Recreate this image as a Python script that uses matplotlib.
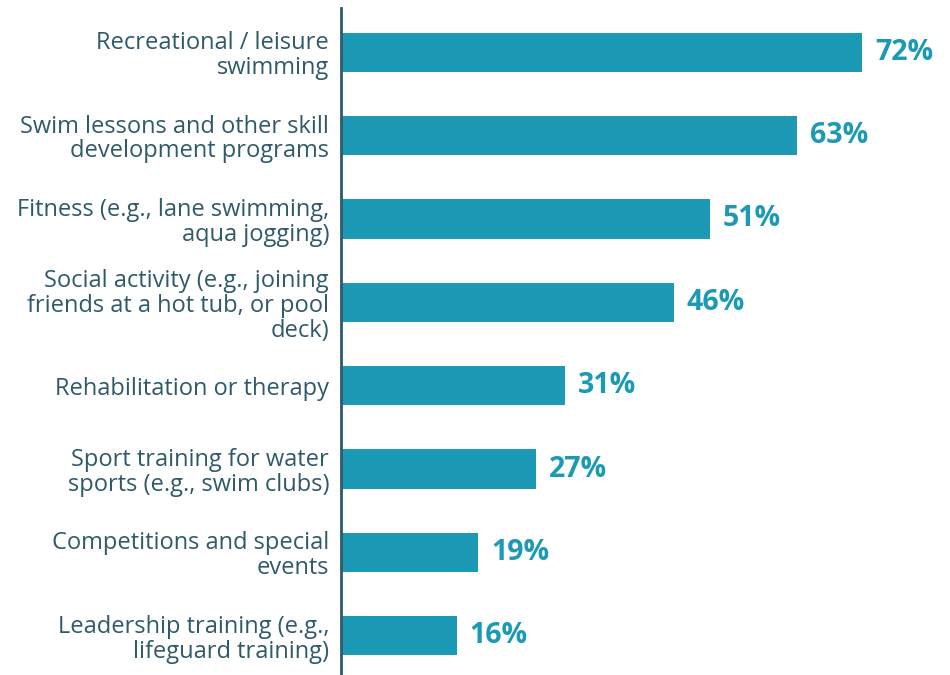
import matplotlib.pyplot as plt

plt.rcParams['font.family'] = ['Open Sans', 'DejaVu Sans']

categories = [
    'Recreational / leisure\nswimming',
    'Swim lessons and other skill\ndevelopment programs',
    'Fitness (e.g., lane swimming,\naqua jogging)',
    'Social activity (e.g., joining\nfriends at a hot tub, or pool\ndeck)',
    'Rehabilitation or therapy',
    'Sport training for water\nsports (e.g., swim clubs)',
    'Competitions and special\nevents',
    'Leadership training (e.g.,\nlifeguard training)',
]
values = [72, 63, 51, 46, 31, 27, 19, 16]

bar_color = '#1c9ab5'
text_color = '#2e5a6a'

fig = plt.figure(figsize=(9.5, 6.75), dpi=100)
ax = fig.add_axes([341 / 950, 0, 1 - 341 / 950, 1 - 8 / 675])

ypos = list(range(len(values)))
ax.barh(ypos, values, height=0.47, color=bar_color)
ax.set_ylim(7.47, -0.53)
ax.set_xlim(0, (950 - 341) / 7.236)

for y, v in zip(ypos, values):
    ax.text(v + 1.8, y, f'{v}%', va='center', ha='left', fontsize=20.5,
            fontweight='bold', color=bar_color)

ax.set_yticks(ypos)
ax.set_yticklabels(categories, fontsize=17, color=text_color, linespacing=1.05)
ax.tick_params(axis='y', length=0, pad=8.6)
ax.set_xticks([])
for s in ['top', 'right', 'bottom']:
    ax.spines[s].set_visible(False)
ax.spines['left'].set_color(text_color)
ax.spines['left'].set_linewidth(2)

fig.savefig('out.png', dpi=100)
